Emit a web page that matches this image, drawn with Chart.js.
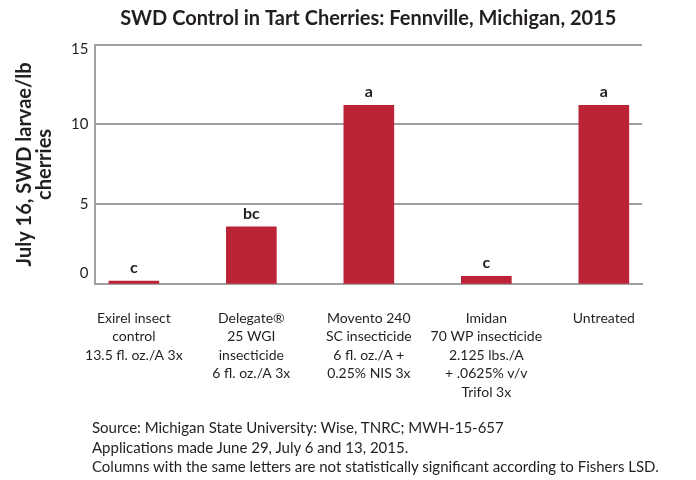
<!DOCTYPE html>
<html>
<head>
<meta charset="utf-8">
<script src="https://cdn.jsdelivr.net/npm/chart.js@4"></script>
<style>
  body { margin: 0; background: #fff; }
  .chart-box { position: relative; width: 696px; height: 480px; }
  .notes {
    position: absolute; left: 92px; top: 418px;
    font-family: Lato, sans-serif; font-size: 15px;
    line-height: 19.5px; color: #231f20;
  }
</style>
</head>
<body>
<div class="chart-box">
  <canvas id="swd-chart" width="696" height="480"></canvas>
  <div class="notes">
    Source: Michigan State University: Wise, TNRC; MWH-15-657<br>
    Applications made June 29, July 6 and 13, 2015.<br>
    Columns with the same letters are not statistically significant according to Fishers LSD.
  </div>
</div>
<script>
const treatments = [
  ['Exirel insect', 'control', '13.5 fl. oz./A 3x'],
  ['Delegate\u00AE', '25 WGI', 'insecticide', '6 fl. oz./A 3x'],
  ['Movento 240', 'SC insecticide', '6 fl. oz./A +', '0.25% NIS 3x'],
  ['Imidan', '70 WP insecticide', '2.125 lbs./A', '+ .0625% v/v', 'Trifol 3x'],
  ['Untreated']
];
const larvaePerLb = [0.2, 3.6, 11.2, 0.5, 11.2];
const sigLetters = ['c', 'bc', 'a', 'c', 'a'];
const yTicks = [0, 5, 10, 15];

const TEXT = '#231f20';
const GRID = '#a0a0a0';
const BAR = '#bd2336';

// letters above each column
const letterPlugin = {
  id: 'letters',
  afterDatasetsDraw(chart) {
    const ctx = chart.ctx;
    const meta = chart.getDatasetMeta(0);
    ctx.save();
    ctx.font = 'bold 16px Lato';
    ctx.fillStyle = TEXT;
    ctx.textAlign = 'center';
    ctx.textBaseline = 'middle';
    meta.data.forEach((bar, i) => {
      ctx.fillText(sigLetters[i], bar.x, bar.y - 13);
    });
    ctx.restore();
  }
};

new Chart(document.getElementById('swd-chart'), {
  type: 'bar',
  data: {
    datasets: [{
      data: larvaePerLb.map((v, i) => ({ x: i, y: v })),
      backgroundColor: BAR,
      barThickness: 50
    }]
  },
  options: {
    responsive: false,
    animation: false,
    layout: { padding: { left: 0, right: 54, top: 0, bottom: 0 } },
    plugins: {
      legend: { display: false },
      tooltip: { enabled: false },
      title: {
        display: true,
        fullSize: false,
        text: 'SWD Control in Tart Cherries: Fennville, Michigan, 2015',
        color: TEXT,
        font: { family: 'Lato', size: 20, weight: 'bold', lineHeight: '24px' },
        padding: { top: 7, bottom: 13.5 }
      }
    },
    scales: {
      x: {
        type: 'linear',
        offset: false,
        min: -0.335,
        max: 4.325,
        afterBuildTicks: (axis) => { axis.ticks = treatments.map((t, i) => ({ value: i })); },
        afterFit: (scale) => { scale.height = 195.7; },
        grid: { display: false, offset: false },
        border: { display: true, color: GRID, width: 2 },
        ticks: {
          color: TEXT,
          autoSkip: false,
          maxRotation: 0,
          padding: 16.5,
          font: { family: 'Lato', size: 14, lineHeight: '18.5px' },
          callback: (v) => treatments[v]
        }
      },
      y: {
        min: 0,
        max: 15,
        afterBuildTicks: (axis) => { axis.ticks = yTicks.map(v => ({ value: v })); },
        afterFit: (scale) => { scale.width = 94.5; },
        grid: { color: GRID, lineWidth: 2, drawTicks: false },
        border: { display: true, color: GRID, width: 2 },
        ticks: {
          color: TEXT,
          padding: 6,
          // the original nudges the 0 label up and the 15 label down
          font: (c) => ({
            family: 'Lato', size: 15,
            lineHeight: c.tick && c.tick.value === 0 ? '22px' : (c.tick && c.tick.value === 15 ? '10px' : 1.2)
          }),
          callback: (v) => v === 0 ? ['0', ''] : (v === 15 ? ['', '15'] : String(v))
        },
        title: {
          display: true,
          text: ['July 16, SWD larvae/lb', 'cherries'],
          color: TEXT,
          font: { family: 'Lato', size: 20, weight: 'bold', lineHeight: '20px' },
          padding: { top: 15, bottom: 0 }
        }
      }
    }
  },
  plugins: [letterPlugin]
});
</script>
</body>
</html>
